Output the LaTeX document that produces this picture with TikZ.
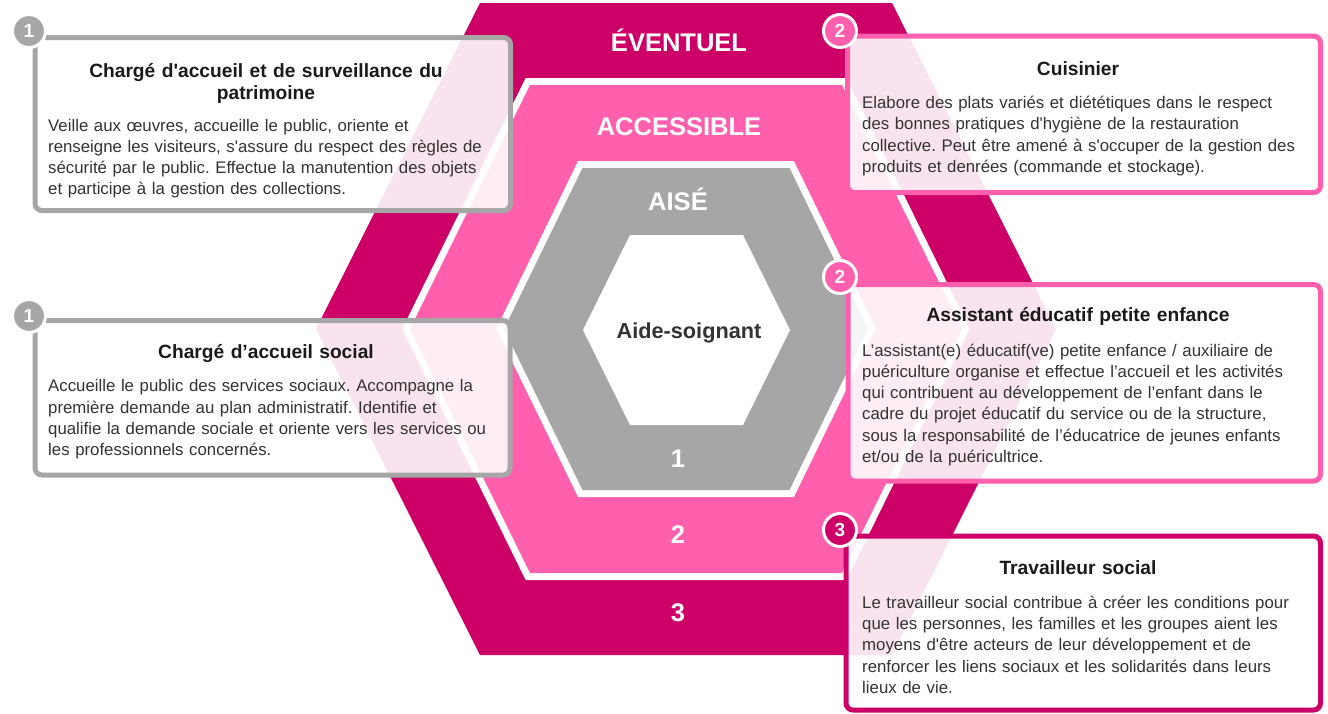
\documentclass[tikz,border=0pt]{standalone}
\usepackage{fontspec}
\setmainfont{Liberation Sans}[Ligatures=TeXOff]
\definecolor{dk}{HTML}{CC0066}
\definecolor{pk}{HTML}{FF5FAD}
\definecolor{gr}{HTML}{A6A6A6}
\definecolor{tx}{HTML}{333333}
\definecolor{tt}{HTML}{1A1A1A}
\frenchspacing
\begin{document}
\begin{tikzpicture}[x=1pt,y=-1pt,
  hexline/.style={draw=white,line width=14pt,line join=miter},
  boxframe/.style={rectangle,rounded corners=7pt,line width=5pt,fill=white,fill opacity=0.89,inner sep=0pt,outer sep=0pt},
  numdot/.style={circle,draw=white,line width=3pt,minimum size=33pt,inner sep=0pt,text=white,font=\fontsize{19}{19}\selectfont\bfseries},
  ttl/.style={anchor=base,font=\fontsize{19.2}{22}\selectfont\bfseries,text=tt,align=center,text width=460pt,inner sep=0pt},
  bdy/.style={anchor=base west,font=\fontsize{16.8}{21.3}\selectfont,text=tx,align=left,text width=470pt,inner sep=0pt},
  lbl/.style={anchor=base,text=white,inner sep=0pt,font=\fontsize{25.5}{25.5}\selectfont\bfseries}]
\useasboundingbox (0,0) rectangle (1328,713);
% hexagons
\fill[dk] (480,3) -- (892,3) -- (1056,329) -- (892,655) -- (480,655) -- (316,329) -- cycle;
\path[hexline] (530,85) -- (842,85) -- (962,329) -- (842,573) -- (530,573) -- (410,329) -- cycle;
\fill[pk] (530,85) -- (842,85) -- (962,329) -- (842,573) -- (530,573) -- (410,329) -- cycle;
\path[hexline] (582.5,168) -- (789.5,168) -- (868,329) -- (789.5,490) -- (582.5,490) -- (504,329) -- cycle;
\fill[gr] (582.5,168) -- (789.5,168) -- (868,329) -- (789.5,490) -- (582.5,490) -- (504,329) -- cycle;
\fill[white] (630,235) -- (743,235) -- (790,330) -- (743,425) -- (630,425) -- (583,330) -- cycle;
% level labels
\node[lbl] (ev) at (679,51) {ÉVENTUEL};
\node[lbl] (ac) at (679,135) {ACCESSIBLE};
\node[lbl] (ai) at (678,210) {AISÉ};
\node[lbl] (n1) at (678,467) {1};
\node[lbl] (n2) at (678,543) {2};
\node[lbl] (n3) at (678,621) {3};
\node[anchor=base,inner sep=0pt,text=tx,font=\fontsize{21.7}{21.7}\selectfont\bfseries] (as) at (689,338) {Aide-soignant};
% boxes
\node[boxframe,draw=gr,minimum width=475.5pt,minimum height=173pt] (b1) at (272.75,124) {};
\node[boxframe,draw=gr,minimum width=475pt,minimum height=154.5pt] (b2) at (272.5,397.75) {};
\node[boxframe,draw=pk,minimum width=473pt,minimum height=156.5pt] (b3) at (1084,114.25) {};
\node[boxframe,draw=pk,minimum width=472.5pt,minimum height=196.5pt] (b4) at (1084.25,382.75) {};
\node[boxframe,draw=dk,minimum width=474.5pt,minimum height=174pt] (b5) at (1083.25,623) {};
% number badges
\node[numdot,fill=gr] (c1) at (29,31) {1};
\node[numdot,fill=gr] (c2) at (29,316) {1};
\node[numdot,fill=pk] (c3) at (840,31) {2};
\node[numdot,fill=pk] (c4) at (840,277) {2};
\node[numdot,fill=dk] (c5) at (840,530) {3};
% texts
\node[ttl] (t1) at (266,77.3) {Chargé d'accueil et de surveillance du\\patrimoine};
\node[bdy] (d1) at (48,131) {Veille aux œuvres, accueille le public, oriente et\\renseigne les visiteurs, s'assure du respect des règles de\\sécurité par le public. Effectue la manutention des objets\\et participe à la gestion des collections.};
\node[ttl] (t2) at (266,358.3) {Chargé d’accueil social};
\node[bdy] (d2) at (48,391.7) {Accueille le public des services sociaux. Accompagne la\\première demande au plan administratif. Identifie et\\qualifie la demande sociale et oriente vers les services ou\\les professionnels concernés.};
\node[ttl] (t3) at (1078,75.5) {Cuisinier};
\node[bdy] (d3) at (862,108.5) {Elabore des plats variés et diététiques dans le respect\\des bonnes pratiques d'hygiène de la restauration\\collective. Peut être amené à s'occuper de la gestion des\\produits et denrées (commande et stockage).};
\node[ttl] (t4) at (1078,321.7) {Assistant éducatif petite enfance};
\node[bdy] (d4) at (862,356) {L’assistant(e) éducatif(ve) petite enfance / auxiliaire de\\puériculture organise et effectue l’accueil et les activités\\qui contribuent au développement de l’enfant dans le\\cadre du projet éducatif du service ou de la structure,\\sous la responsabilité de l’éducatrice de jeunes enfants\\et/ou de la puéricultrice.};
\node[ttl] (t5) at (1078,574) {Travailleur social};
\node[bdy] (d5) at (862,608.3) {Le travailleur social contribue à créer les conditions pour\\que les personnes, les familles et les groupes aient les\\moyens d'être acteurs de leur développement et de\\renforcer les liens sociaux et les solidarités dans leurs\\lieux de vie.};
\end{tikzpicture}
\end{document}
